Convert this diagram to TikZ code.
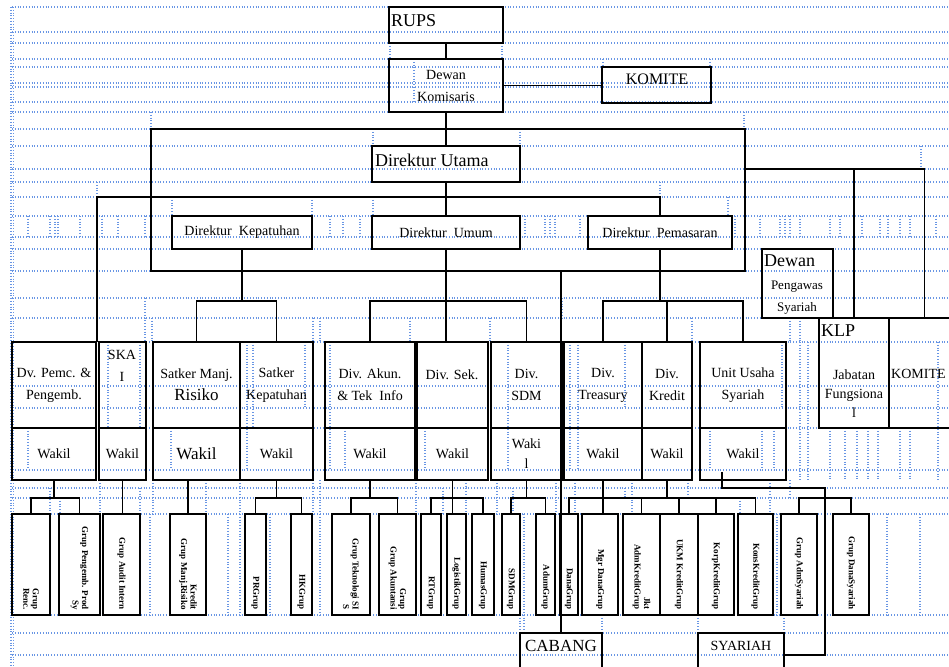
\documentclass[tikz,border=0pt]{standalone}
\usepackage{fontspec}
\setmainfont{Liberation Serif}
\usepackage{xcolor}
\usepackage{tikz}
\usetikzlibrary{positioning}

\definecolor{gridblue}{RGB}{105,150,228}
\newcommand{\fsz}[1]{\fontsize{#1}{22}\selectfont}
% box from corner (x1,y1) to (x2,y2), in pixels of the sheet
\newcommand{\orgbox}[7][]{%
  \node[box,#1,minimum width={#5-#3},minimum height={#6-#4}] (#2) at ({(#3+#5)/2},{(#4+#6)/2}) {#7};}

\begin{document}
\begin{tikzpicture}[x=1pt,y=-1pt,
  box/.style={draw=black,line width=1.9pt,inner sep=0pt,outer sep=0pt,align=center,font=\fsz{14}},
  lbl/.style={inner sep=0pt,align=center,font=\fsz{14}},
  grp/.style={rotate=-90,anchor=east,align=right,inner sep=0pt,font=\fontsize{9}{9.5}\selectfont\bfseries},
  wire/.style={line width=1.9pt},
  grid/.style={draw=gridblue,line width=1.1pt,dash pattern=on 1pt off 1.8pt}]

\useasboundingbox (0,0) rectangle (949,666);
\clip (0,0) rectangle (949,666);
\fill[white] (0,0) rectangle (949,666);

% sheet grid
\foreach \y in {7,32,43,59,67,83,87,102,112,129,146,169,182,197,216,237,249,271,298,318,342,386,408,428,470,488,498,514,615,633,655}
  \draw[grid] (12,\y) -- (949,\y);
\draw[grid] (11,7) -- (11,666);
\draw[grid] (13.5,7) -- (13.5,666);
\foreach \x/\ya/\yb in {390/43/59,414/59/102,502/43/59,603/59/67,710/59/67,151/112/129,744/112/129,
    373/129/146,520/129/146,921/146/169,97/182/197,660/182/197,172/197/216,312/197/216,373/197/216,728/197/216,
    28/216/237,50/216/237,55/216/237,58/216/237,80/216/237,102/216/237,118/216/237,145/216/237,
    330/216/237,343/216/237,360/216/237,525/216/237,545/216/237,550/216/237,555/216/237,580/216/237,
    735/216/237,760/216/237,780/216/237,785/216/237,790/216/237,800/216/237,830/216/237,840/216/237,
    862/216/237,880/216/237,888/216/237,900/216/237,910/216/237,936/216/237,
    97/298/318,145/298/342,152/318/342,313/318/342,320/318/342,410/318/342,490/318/342,562/298/318,
    692/318/342,790/318/342,800/318/342,
    28/428/470,108/342/428,140/342/428,171/428/470,247/342/470,253/342/428,305/342/408,330/342/470,
    345/428/470,425/428/470,508/342/470,570/342/470,578/342/470,625/342/408,710/428/470,762/428/470,
    774/428/470,782/342/408,800/342/480,808/342/480,830/428/480,845/428/480,857/428/480,868/428/480,
    878/428/480,900/428/480,910/428/480,938/342/480,
    50/488/514,60/498/514,100/480/514,140/488/514,153/480/514,206/480/514,240/480/514,
    313/480/514,320/480/514,416/480/514,443/488/514,466/480/514,497/480/514,513/488/514,556/480/514,
    575/480/514,625/488/498,632/480/514,688/480/498,740/498/514,770/480/514,790/480/498,
    150/514/615,228/514/615,240/514/615,270/514/615,320/514/615,524/514/633,777/514/615,887/514/615,920/514/615,
    520/615/633,602/615/633,698/615/633,784/615/633}
  \draw[grid] (\x,\ya) -- (\x,\yb);

% top of the chart
\orgbox{rups}{389}{7}{503}{43}{}
\node[lbl,anchor=west,font=\fsz{18}] (rupst) at (391,21) {RUPS};
\orgbox{dekom}{389}{59}{503}{112}{Dewan\\Komisaris}
\orgbox{komite1}{602}{67}{711}{103}{}
\node[lbl,font=\fsz{16}] (komite1t) at (657,79) {KOMITE};
\orgbox{dirut}{372}{146}{520}{182}{}
\node[lbl,anchor=west,font=\fsz{18}] (dirutt) at (375,160) {Direktur Utama};

% directors
\orgbox{dirkep}{172}{216}{312}{249}{Direktur\ \ Kepatuhan}
\orgbox{dirum}{372}{216}{520}{249}{Direktur\ \ Umum}
\orgbox{dirpem}{588}{216}{732}{249}{Direktur\ \ Pemasaran}

% right side
\orgbox{dps}{762}{249}{833}{318}{}
\node[lbl,anchor=west,font=\fsz{18}] (dpst) at (764,261) {Dewan};
\node[lbl,font=\fsz{13}] (dpst2) at (797,298) {Pengawas\\Syariah};
\orgbox{klp}{819}{318}{889}{428}{}
\node[lbl,anchor=west,font=\fsz{18}] (klpt) at (821,331) {KLP};
\node[lbl,font=\fontsize{14}{19}\selectfont] (klpt2) at (854,394) {Jabatan\\Fungsiona\\l};
\orgbox{komite2}{889}{318}{960}{428}{}
\node[lbl,anchor=west] (komite2t) at (891,374) {KOMITE};

% divisions
\orgbox{pemc}{12}{342}{96}{428}{Dv. Pemc. \&\\Pengemb.}
\orgbox{ska}{99}{342}{146}{428}{}
\node[lbl] (skat) at (122,366) {SKA\\I};
\orgbox{smr}{153}{342}{240}{428}{Satker Manj.\\\fsz{17}Risiko}
\orgbox{skp}{240}{342}{313}{428}{Satker\\Kepatuhan}
\orgbox{akun}{325}{342}{415}{428}{Div. Akun.\\\& Tek\ \ Info}
\orgbox{sek}{417}{342}{488}{428}{}
\node[lbl] (sekt) at (452,375) {Div. Sek.};
\orgbox{sdm}{491}{342}{562}{428}{Div.\\SDM}
\orgbox{trs}{564}{342}{642}{428}{Div.\\Treasury}
\orgbox{krd}{642}{342}{692}{428}{Div.\\Kredit}
\orgbox{uus}{700}{342}{786}{428}{Unit Usaha\\Syariah}

% deputies
\orgbox{pemcw}{12}{428}{96}{480}{Wakil}
\orgbox{skaw}{99}{428}{146}{480}{Wakil}
\orgbox[font=\fsz{17}]{smrw}{153}{428}{240}{480}{Wakil}
\orgbox{skpw}{240}{428}{313}{480}{Wakil}
\orgbox{akunw}{325}{428}{415}{480}{Wakil}
\orgbox{sekw}{417}{428}{488}{480}{Wakil}
\orgbox[font=\fontsize{14}{20}\selectfont]{sdmw}{491}{428}{562}{480}{Waki\\l}
\orgbox{trsw}{564}{428}{642}{480}{Wakil}
\orgbox{krdw}{642}{428}{692}{480}{Wakil}
\orgbox{uusw}{700}{428}{786}{480}{Wakil}

% groups
\orgbox{g1}{12}{514}{50}{615}{}
\orgbox{g2}{59}{514}{100}{615}{}
\orgbox{g3}{103}{514}{140}{615}{}
\orgbox{g4}{170}{514}{206}{615}{}
\orgbox{g5}{245}{514}{266}{615}{}
\orgbox{g6}{291}{514}{312}{615}{}
\orgbox{g7}{332}{514}{370}{615}{}
\orgbox{g8}{379}{514}{416}{615}{}
\orgbox{g9}{421}{514}{441}{615}{}
\orgbox{g10}{447}{514}{466}{615}{}
\orgbox{g11}{472}{514}{494}{615}{}
\orgbox{g12}{502}{514}{520}{615}{}
\orgbox{g13}{536}{514}{555}{615}{}
\orgbox{g14}{560}{514}{578}{615}{}
\orgbox{g15}{582}{514}{618}{615}{}
\orgbox{g16}{623}{514}{660}{615}{}
\orgbox{g17}{660}{514}{698}{615}{}
\orgbox{g18}{698}{514}{734}{615}{}
\orgbox{g19}{738}{514}{773}{615}{}
\orgbox{g20}{781}{514}{817}{615}{}
\orgbox{g21}{833}{514}{869}{615}{}
\node[grp] at ([yshift=5pt]g1.south) {Grup\\Renc.};
\node[grp] at ([yshift=5pt]g2.south) {Grup Pengemb. Prod\\Sy};
\node[grp] at ([yshift=5pt]g3.south) {Grup Audit Intern};
\node[grp] at ([yshift=5pt]g4.south) {Kredit\\Grup Manj.Risiko};
\node[grp] at ([yshift=5pt]g5.south) {PRGrup};
\node[grp] at ([yshift=5pt]g6.south) {HKGrup};
\node[grp] at ([yshift=5pt]g7.south) {Grup Teknologi SI\\S};
\node[grp] at ([yshift=5pt]g8.south) {Grup\\Grup Akuntansi};
\node[grp] at ([yshift=5pt]g9.south) {RTGrup};
\node[grp] at ([yshift=5pt]g10.south) {LogistikGrup};
\node[grp] at ([yshift=5pt]g11.south) {HumasGrup};
\node[grp] at ([yshift=5pt]g12.south) {SDMGrup};
\node[grp] at ([yshift=5pt]g13.south) {AdumGrup};
\node[grp] at ([yshift=5pt]g14.south) {DanaGrup};
\node[grp] at ([yshift=5pt]g15.south) {Mgr DanaGrup};
\node[grp] at ([yshift=5pt]g16.south) {Jkt\\AdmKreditGrup};
\node[grp] at ([yshift=5pt]g17.south) {UKM KreditGrup};
\node[grp] at ([yshift=5pt]g18.south) {KorpKreditGrup};
\node[grp] at ([yshift=5pt]g19.south) {KonsKreditGrup};
\node[grp] at ([yshift=5pt]g20.south) {Grup AdmSyariah};
\node[grp] at ([yshift=5pt]g21.south) {Grup DanaSyariah};

% branches
\orgbox{cabang}{520}{633}{602}{677}{}
\node[lbl,font=\fsz{17}] (cabangt) at (561,646) {CABANG};
\orgbox{syariah}{698}{633}{784}{677}{}
\node[lbl] (syariaht) at (741,646) {SYARIAH};

% bus levels and joints
\coordinate (lvA) at (0,197);
\coordinate (lvB) at (0,301);
\coordinate (lvC) at (0,169);
\coordinate (lvD) at (0,498);
\coordinate (fTL) at (151,129);
\coordinate (fBR) at (745,271);
\coordinate (j97) at (97,342);
\coordinate (j825) at (825,488);

% connectors
\draw[wire] (rups) -- (dekom);
\draw[wire] (dekom.east) -- (dekom.east -| komite1.west);
\draw[wire] (dekom) -- (dirut);
\draw[wire] (dirut) -- (dirum);
\draw[wire] (fTL) rectangle (fBR);
\draw[wire] (j97) |- (dirpem.north |- lvA) -- (dirpem.north);
\draw[wire] (fBR |- lvC) -| (komite2.north);
\draw[wire] (klp.north |- lvC) -- (klp.north);

\draw[wire] (dirkep.south) -- (dirkep.south |- lvB);
\draw[wire] (smr.north) |- (skp.north |- lvB) -- (skp.north);
\draw[wire] (dirum.south) -- (dirum.south |- sek.north);
\draw[wire] (akun.north) |- (sdm.north |- lvB) -- (sdm.north);
\draw[wire] (dirpem.south) -- (dirpem.south |- lvB);
\draw[wire] (trs.north) |- (uus.north |- lvB) -- (uus.north);
\draw[wire] (krd.north |- lvB) -- (krd.north);
\draw[line width=2.6pt] (cabang.north |- fBR) -- (cabang.north);

\draw[wire] (pemcw.south) -- (pemcw.south |- lvD);
\draw[wire] (g1.north) |- (g2.north |- lvD) -- (g2.north);
\draw[wire] (skaw.south) -- (skaw.south |- g3.north);
\draw[wire] (g4.north |- smrw.south) -- (g4.north);
\draw[wire] (skpw.south) -- (skpw.south |- lvD);
\draw[wire] (g5.north) |- (g6.north |- lvD) -- (g6.north);
\draw[wire] (akunw.south) -- (akunw.south |- lvD);
\draw[wire] (g7.north) |- (g8.north |- lvD) -- (g8.north);
\draw[wire] (sekw.south) -- (sekw.south |- g10.north);
\draw[wire] (g9.north) |- (g11.north |- lvD) -- (g11.north);
\draw[wire] (sdmw.south) -- (sdmw.south |- lvD);
\draw[wire] (g12.north) |- (g13.north |- lvD) -- (g13.north);
\draw[wire] (trsw.south) -- (trsw.south |- g15.north);
\draw[wire] (g14.north) |- (g19.north |- lvD) -- (g19.north);
\foreach \g in {g16,g17,g18}
  \draw[wire] (\g.north |- lvD) -- (\g.north);
\draw[wire] (krdw.south) -- (krdw.south |- lvD);
\draw[wire] ([xshift=-21pt,yshift=8pt]uusw.south) |- (j825) |- (syariah.east);
\draw[wire] (g20.north) |- (g21.north |- lvD) -- (g21.north);
\end{tikzpicture}
\end{document}
